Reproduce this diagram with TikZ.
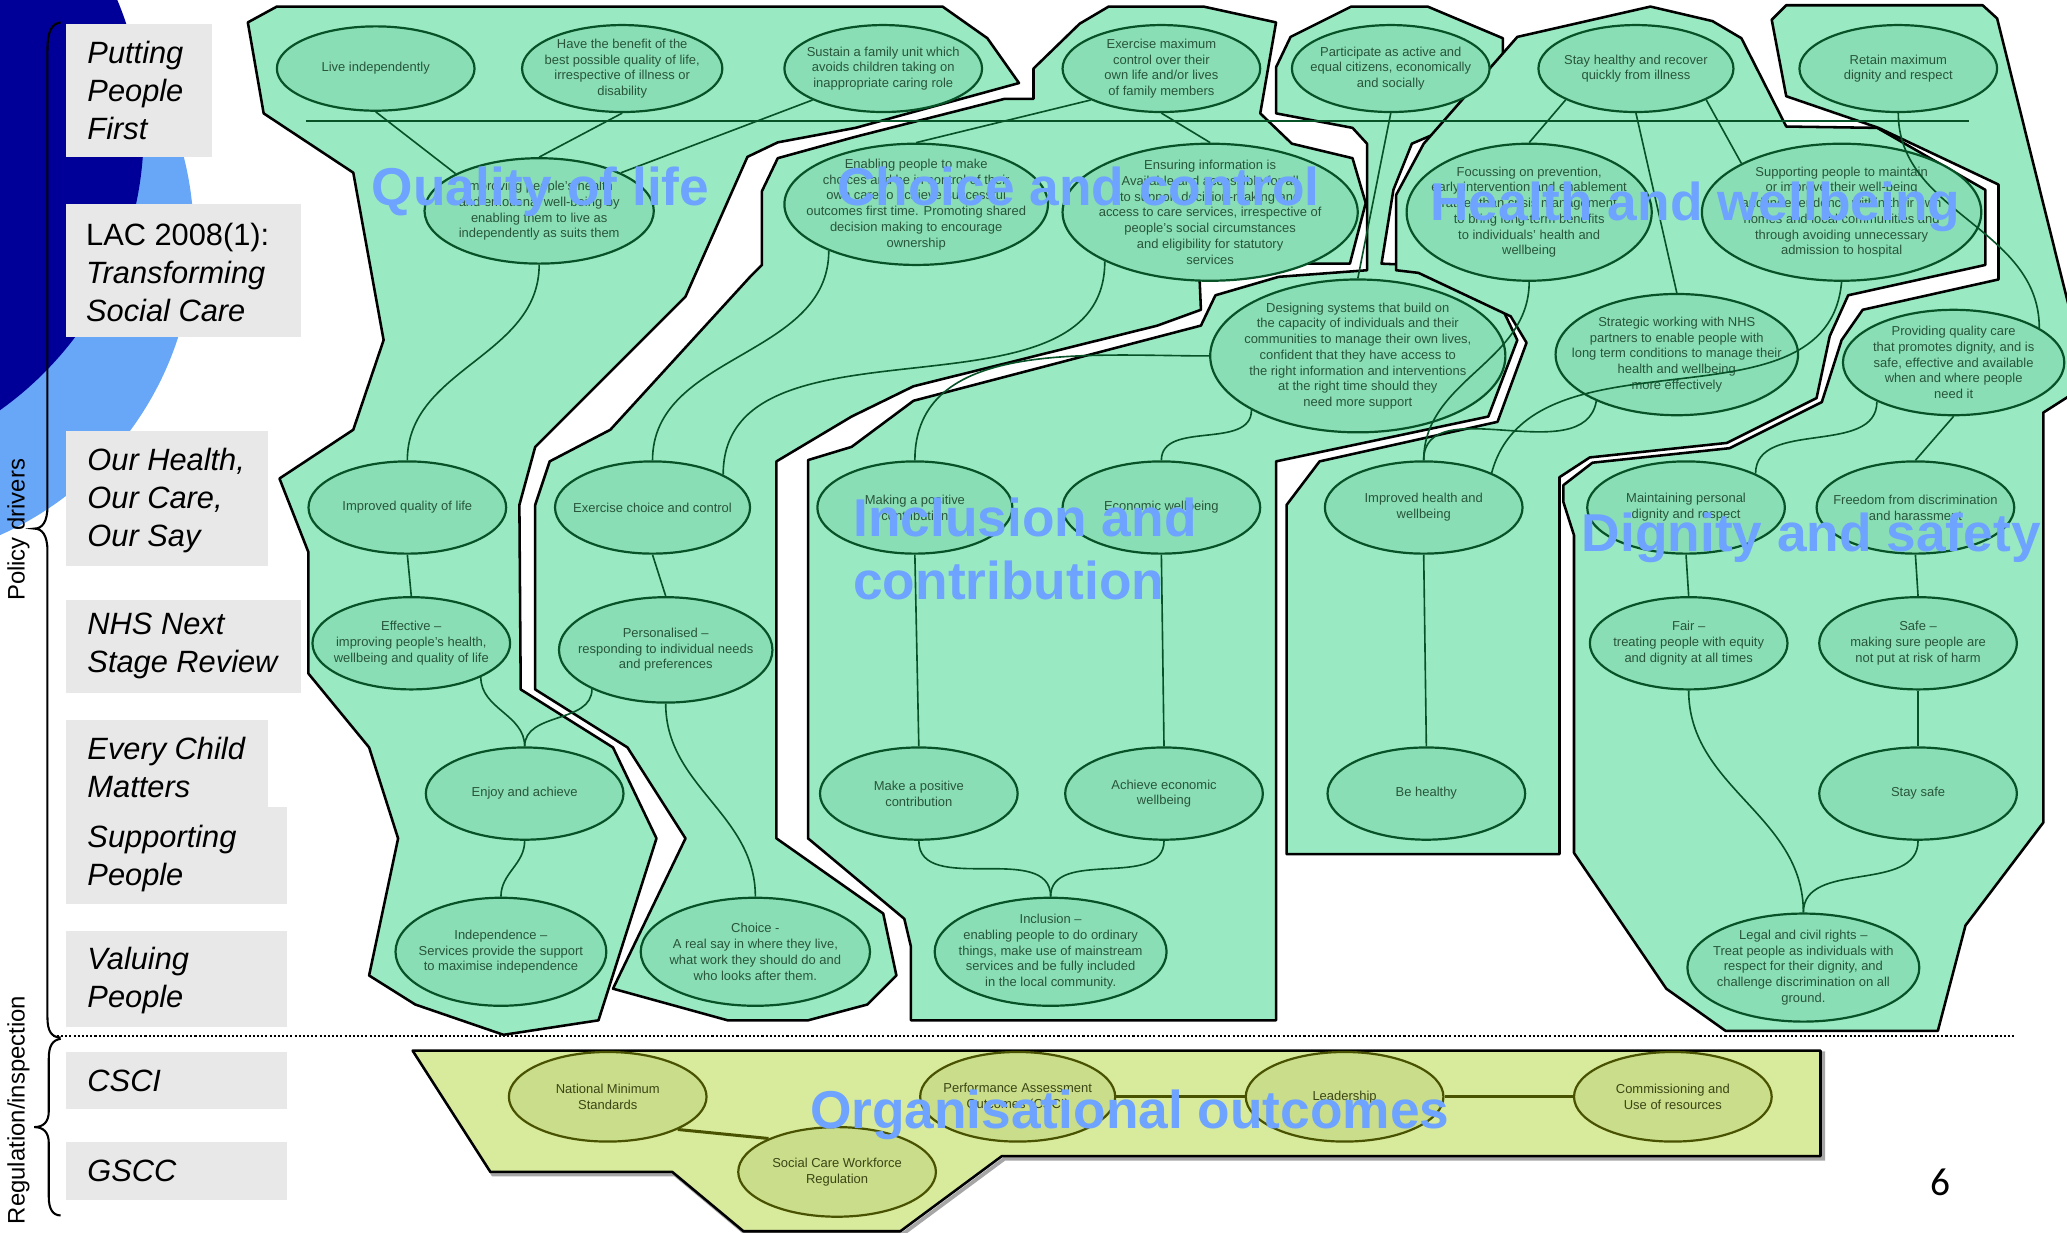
\documentclass[tikz,border=0pt]{standalone}
\usepackage{fontspec}
\setmainfont{Liberation Sans}
\newfontfamily\slidenumfont{Carlito}
\usetikzlibrary{shapes.geometric}

\definecolor{navyblue}{RGB}{0,0,153}
\definecolor{bgsky}{RGB}{104,166,248}
\definecolor{boxgrey}{RGB}{232,232,232}
\definecolor{regiongreen}{RGB}{153,234,194}
\definecolor{goalfill}{RGB}{138,222,181}
\definecolor{goalline}{RGB}{8,82,40}
\definecolor{goalink}{RGB}{40,85,60}
\definecolor{orgregion}{RGB}{216,234,156}
\definecolor{orgfill}{RGB}{201,221,139}
\definecolor{orgline}{RGB}{72,82,0}
\definecolor{orgink}{RGB}{60,70,20}
\definecolor{themeblue}{RGB}{110,163,255}

\tikzset{
  region/.style={draw=black, fill=regiongreen, line width=1.1pt, line join=round},
  goal/.style={ellipse, draw=goalline, fill=goalfill, line width=0.95pt, inner sep=0pt},
  goal text/.style={font=\fontsize{5.6}{6.8}\selectfont, text=goalink, align=center, inner sep=0pt},
  orggoal/.style={ellipse, draw=orgline, fill=orgfill, line width=0.95pt, inner sep=0pt},
  orggoal text/.style={font=\fontsize{5.6}{6.8}\selectfont, text=orgink, align=center, inner sep=0pt},
  link/.style={draw=goalline, line width=0.7pt},
  orglink/.style={draw=orgline, line width=1.3pt},
  theme/.style={font=\fontsize{23}{27}\selectfont\bfseries, text=themeblue, inner sep=0pt},
  driver/.style={font=\fontsize{13.3}{16.4}\selectfont\itshape, align=left, anchor=west, inner sep=0pt},
  brace/.style={draw=black, line width=0.9pt},
}

\newcommand{\outcome}[6][goal]{%
  \node[#1, minimum width=#4*0.04cm, minimum height=#5*0.04cm] (#2) at (#3) {};
  \node[#1 text] (#2t) at (#2.center) {#6};}

\begin{document}
\begin{tikzpicture}[x=0.02cm, y=-0.02cm]
\useasboundingbox (0,0) rectangle (1568,935);
\fill[white] (0,0) rectangle (1568,935);
\begin{scope}
\clip (0,0) rectangle (1568,935);
\fill[bgsky] (-100,180) circle (247);
\fill[navyblue] (-150,100) circle (259);
\end{scope}

\fill[boxgrey] (50,18) rectangle (161,119);
\fill[boxgrey] (50,155) rectangle (228,256);
\fill[boxgrey] (50,327) rectangle (203,429);
\fill[boxgrey] (50,455) rectangle (228,526);
\fill[boxgrey] (50,546) rectangle (203,614);
\fill[boxgrey] (50,612) rectangle (218,686);
\fill[boxgrey] (50,706) rectangle (218,779);
\fill[boxgrey] (50,798) rectangle (218,841);
\fill[boxgrey] (50,866) rectangle (218,910);

\node[driver] (ppf) at (66,69) {Putting\\People\\First};
\node[driver] (lac) at (65,207) {{\upshape LAC 2008(1):}\\Transforming\\Social Care};
\node[driver] (ohocos) at (66,380) {Our Health,\\Our Care,\\Our Say};
\node[driver] (nhs) at (66,490) {NHS Next\\Stage Review};
\node[driver] (ecm) at (66,582) {Every Child\\Matters};
\node[driver] (sp) at (66,651) {Supporting\\People};
\node[driver] (vp) at (66,744) {Valuing\\People};
\node[driver] (csci) at (66,820) {CSCI};
\node[driver] (gscc) at (66,888) {GSCC};

\node[rotate=90, font=\fontsize{10.3}{12}\selectfont, inner sep=0pt] (pold) at (14,402) {Policy drivers};
\node[rotate=90, font=\fontsize{10.3}{12}\selectfont, inner sep=0pt] (regi) at (14,842) {Regulation/inspection};

\draw[brace] (46,17) .. controls (39,18) and (36,24) .. (36,38) -- (36,384) .. controls (36,396) and (32,401) .. (26,401) .. controls (32,401) and (36,406) .. (36,418) -- (36,772) .. controls (36,782) and (39,787) .. (46,787);
\draw[brace] (46,788) .. controls (40,789) and (37,793) .. (37,803) -- (37,843) .. controls (37,851) and (33,855) .. (26,855) .. controls (33,855) and (37,859) .. (37,867) -- (37,908) .. controls (37,917) and (40,922) .. (46,922);

\coordinate (divL) at (40,786);
\coordinate (divR) at (1528,786);
\draw[line width=0.9pt, dash pattern=on 0.9pt off 0.9pt] (divL) -- (divR);

\draw[region] (188,17) -- (210,5) -- (715,5) -- (749,29) -- (773,63) -- (649,97) -- (590,108) -- (567,119) -- (520,225) -- (406,339) -- (394,383) -- (395,523) -- (465,567) -- (498,636) -- (454,774) -- (382,785) -- (315,762) -- (280,740) -- (302,636) -- (280,567) -- (234,511) -- (234,419) -- (212,363) -- (268,326) -- (291,258) -- (268,131) -- (200,86) -- cycle;
\draw[region] (784,75) -- (784,52) -- (819,18) -- (841,5) -- (913,5) -- (968,17) -- (956,86) -- (980,109) -- (1026,120) -- (1036,154) -- (1024,200) -- (968,200) -- (910,212) -- (911,235) -- (878,247) -- (693,293) -- (646,316) -- (589,350) -- (589,636) -- (670,693) -- (680,740) -- (658,762) -- (613,774) -- (552,774) -- (465,750) -- (520,636) -- (476,567) -- (406,523) -- (406,383) -- (417,350) -- (463,326) -- (569,210) -- (578,201) -- (578,145) -- (590,120) -- (648,104) -- (762,75) -- cycle;
\draw[region] (979,28) -- (1025,5) -- (1083,5) -- (1140,29) -- (1140,63) -- (1125,86) -- (1071,109) -- (1057,144) -- (1048,200) -- (1071,201) -- (1140,235) -- (1151,258) -- (1129,316) -- (968,350) -- (968,774) -- (691,774) -- (691,718) -- (686,697) -- (613,636) -- (613,349) -- (646,339) -- (693,304) -- (911,247) -- (922,224) -- (970,210) -- (1037,205) -- (1037,109) -- (1026,97) -- (968,86) -- (968,51) -- cycle;
\draw[region] (1080,109) -- (1151,28) -- (1252,5) -- (1299,16) -- (1321,29) -- (1355,96) -- (1424,97) -- (1506,144) -- (1506,201) -- (1402,224) -- (1388,255) -- (1378,302) -- (1310,336) -- (1206,347) -- (1183,362) -- (1183,648) -- (976,648) -- (976,383) -- (1001,350) -- (1136,320) -- (1158,260) -- (1146,240) -- (1076,207) -- (1059,205) -- (1059,148) -- cycle;
\draw[region] (1344,15) -- (1355,4) -- (1504,4) -- (1515,14) -- (1575,255) -- (1575,297) -- (1550,313) -- (1550,624) -- (1491,702) -- (1470,782) -- (1309,782) -- (1264,750) -- (1194,647) -- (1194,406) -- (1186,381) -- (1186,368) -- (1208,351) -- (1312,340) -- (1348,322) -- (1382,305) -- (1397,258) -- (1413,235) -- (1516,212) -- (1516,140) -- (1425,97) -- (1355,73) -- cycle;

\draw[gray!70, line width=1.6pt, shift={(2,2)}] (313,797) -- (1381,797) -- (1381,877) -- (760,877) -- (683,934) -- (564,934) -- (510,889) -- (372,889) -- cycle;
\draw[region, fill=orgregion] (313,797) -- (1381,797) -- (1381,877) -- (760,877) -- (683,934) -- (564,934) -- (510,889) -- (372,889) -- cycle;

\coordinate (sepL) at (232,92);
\coordinate (sepR) at (1494,92);
\draw[goalline, line width=0.85pt] (sepL) -- (sepR);

\outcome{e1}{285,52}{75}{32}{Live independently}
\outcome{e2}{472,52}{76}{33}{Have the benefit of the\\best possible quality of life,\\irrespective of illness or\\disability}
\outcome{e3}{670,52}{75}{33}{Sustain a family unit which\\avoids children taking on\\inappropriate caring role}
\outcome{e4}{881,52}{75}{33}{Exercise maximum\\control over their\\own life and/or lives\\of family members}
\outcome{e5}{1055,52}{75}{33}{Participate as active and\\equal citizens, economically\\and socially}
\outcome{e6}{1241,52}{74}{33}{Stay healthy and recover\\quickly from illness}
\outcome{e7}{1440,52}{75}{33}{Retain maximum\\dignity and respect}
\outcome{e8}{409,160}{87}{40}{Improving people's health\\and emotional well-being by\\enabling them to live as\\independently as suits them}
\outcome{e9}{695,155}{100}{46}{Enabling people to make\\choices and be in control of their\\own care to achieve successful\\outcomes first time. Promoting shared\\decision making to encourage\\ownership}
\outcome{e10}{918,161}{112}{52}{Ensuring information is\\Available and accessible for all\\to support decision-making and\\access to care services, irrespective of\\people's social circumstances\\and eligibility for statutory\\services}
\outcome{e11}{1160,161}{93}{52}{Focussing on prevention,\\early intervention and enablement\\rather than crisis management\\to bring long-term benefits\\to individuals' health and\\wellbeing}
\outcome{e12}{1397,161}{106}{52}{Supporting people to maintain\\or improve their well-being\\and independence within their own\\homes and local communities and\\through avoiding unnecessary\\admission to hospital}
\outcome{e13}{1030,270}{112}{58}{Designing systems that build on\\the capacity of individuals and their\\communities to manage their own lives,\\confident that they have access to\\the right information and interventions\\at the right time should they\\need more support}
\outcome{e14}{1272,269}{92}{46}{Strategic working with NHS\\partners to enable people with\\long term conditions to manage their\\health and wellbeing\\more effectively}
\outcome{e15}{1482,275}{84}{40}{Providing quality care\\that promotes dignity, and is\\safe, effective and available\\when and where people\\need it}
\outcome{e16}{309,385}{75}{35}{Improved quality of life}
\outcome{e17}{495,385}{74}{35}{Exercise choice and control}
\outcome{e18}{694,385}{74}{35}{Making a positive\\contribution}
\outcome{e19}{881,385}{75}{35}{Economic wellbeing}
\outcome{e20}{1080,385}{75}{35}{Improved health and\\wellbeing}
\outcome{e21}{1279,385}{75}{35}{Maintaining personal\\dignity and respect}
\outcome{e22}{1453,385}{75}{35}{Freedom from discrimination\\and harassment}
\outcome{e23}{312,488}{75}{35}{Effective –\\improving people's health,\\wellbeing and quality of life}
\outcome{e24}{505,493}{81}{40}{Personalised –\\responding to individual needs\\and preferences}
\outcome{e25}{1281,488}{75}{35}{Fair –\\treating people with equity\\and dignity at all times}
\outcome{e26}{1455,488}{75}{35}{Safe –\\making sure people are\\not put at risk of harm}
\outcome{e27}{398,602}{75}{35}{Enjoy and achieve}
\outcome{e28}{697,602}{75}{35}{Make a positive\\contribution}
\outcome{e29}{883,602}{75}{35}{Achieve economic\\wellbeing}
\outcome{e30}{1082,602}{75}{35}{Be healthy}
\outcome{e31}{1455,602}{75}{35}{Stay safe}
\outcome{e32}{380,722}{80}{41}{Independence –\\Services provide the support\\to maximise independence}
\outcome{e33}{573,722}{87}{41}{Choice -\\A real say in where they live,\\what work they should do and\\who looks after them.}
\outcome{e34}{797,722}{88}{41}{Inclusion –\\enabling people to do ordinary\\things, make use of mainstream\\services and be fully included\\in the local community.}
\outcome{e35}{1368,734}{88}{41}{Legal and civil rights –\\Treat people as individuals with\\respect for their dignity, and\\challenge discrimination on all\\ground.}
\outcome[orggoal]{o1}{461,832}{75}{34}{National Minimum\\Standards}
\outcome[orggoal]{o2}{635,889}{75}{34}{Social Care Workforce\\Regulation}
\outcome[orggoal]{o3}{772,832}{74}{34}{Performance Assessment\\Outcomes (CSCI)}
\outcome[orggoal]{o4}{1020,832}{75}{34}{Leadership}
\outcome[orggoal]{o5}{1269,832}{75}{34}{Commissioning and\\Use of resources}

\draw[link] (e1.south) -- (e8.156);
\draw[link] (e2.south) -- (e8.north);
\draw[link] (e3.204) -- (e8.25);
\draw[link] (e4.204) -- (e9.north);
\draw[link] (e4.south) -- (e10.north);
\draw[link] (e5.south) -- (e13.north);
\draw[link] (e6.204) -- (e11.north);
\draw[link] (e6.south) -- (e14.north);
\draw[link] (e6.336) -- (e12.154);
\draw[link] (e8.south) to[out=-90, in=90] (e16.north);
\draw[link] (e9.208) to[out=-90, in=90] (e17.north);
\draw[link] (e10.205) to[out=-90, in=90] (e17.25);
\draw[link] (e13.west) to[out=180, in=90] (e18.north);
\draw[link] (e13.207) to[out=-90, in=90] (e19.north);
\draw[link] (e11.south) to[out=-90, in=90] (e20.north);
\draw[link] (e14.210) to[out=-100, in=90] (e20.north);
\draw[link] (e12.south) to[out=-95, in=75] (e20.27);
\draw[link] (e7.south) to[out=-90, in=90] (e15.22);
\draw[link] (e15.207) to[out=-90, in=90] (e21.26);
\draw[link] (e15.south) -- (e22.north);
\draw[link] (e16.south) -- (e23.north);
\draw[link] (e17.south) -- (e24.north);
\draw[link] (e18.south) -- (e28.north);
\draw[link] (e19.south) -- (e29.north);
\draw[link] (e20.south) -- (e30.north);
\draw[link] (e21.south) -- (e25.north);
\draw[link] (e22.south) -- (e26.north);
\draw[link] (e26.south) -- (e31.north);
\draw[link] (e23.334) to[out=-90, in=90] (e27.north);
\draw[link] (e24.208) to[out=-90, in=90] (e27.north);
\draw[link] (e27.south) to[out=-90, in=90] (e32.north);
\draw[link] (e24.south) to[out=-90, in=90] (e33.north);
\draw[link] (e28.south) to[out=-90, in=90] (e34.north);
\draw[link] (e29.south) to[out=-90, in=90] (e34.north);
\draw[link] (e25.south) to[out=-90, in=90] (e35.north);
\draw[link] (e31.south) to[out=-90, in=90] (e35.north);
\draw[orglink] (o1.335) -- (o2.154);
\draw[orglink] (o3.east) -- (o4.west);
\draw[orglink] (o4.east) -- (o5.west);

\node[theme, anchor=base] (qol) at (410,156) {Quality of life};
\node[theme, anchor=base] (cac) at (818,156) {Choice and control};
\node[theme, anchor=base] (haw) at (1286,167) {Health and wellbeing};
\node[theme, anchor=base west] (inc1) at (647,407) {Inclusion and};
\node[theme, anchor=base west] (inc2) at (647,455) {contribution};
\node[theme, anchor=base] (das) at (1374,418) {Dignity and safety};
\node[theme, anchor=base] (orgo) at (857,856) {Organisational outcomes};

\node[font=\slidenumfont\fontsize{17}{20}\selectfont, inner sep=0pt] (pagenum) at (1472,897) {6};
\end{tikzpicture}
\end{document}
